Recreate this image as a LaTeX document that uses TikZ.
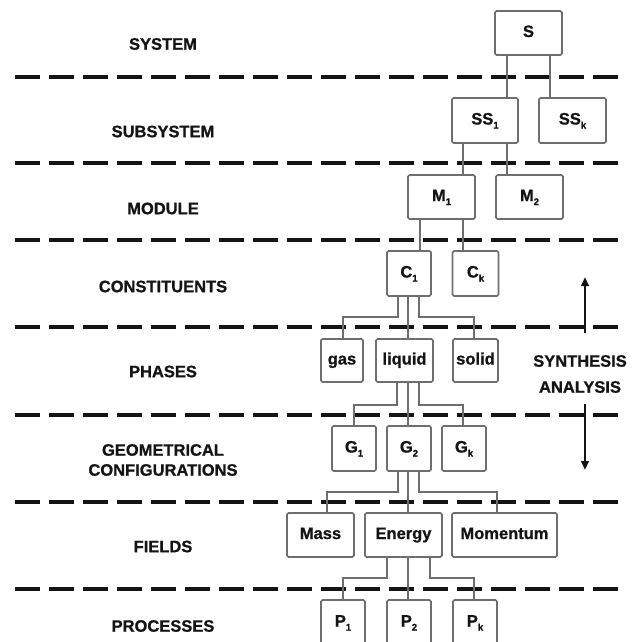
\documentclass[tikz,border=0pt]{standalone}
\usepackage{fontspec}
\setmainfont{Liberation Sans}
\newfontfamily\heavyfont[BoldFeatures={FakeBold=0.9}]{Liberation Sans}
\usetikzlibrary{arrows.meta}
\definecolor{boxgray}{HTML}{6E6E6E}
\definecolor{ink}{HTML}{141414}
\newcommand{\lowidx}[1]{\raisebox{-4pt}{\fontsize{9.5}{9.5}\selectfont #1}}
\begin{document}
\begin{tikzpicture}[x=1pt,y=-1pt,
  level/.style={font=\heavyfont\bfseries\fontsize{16.5}{20}\selectfont, text=ink, align=center, inner sep=0pt},
  unit/.style={draw=boxgray, line width=1.7pt, rounded corners=1.5pt,
    font=\heavyfont\bfseries\fontsize{16.5}{18}\selectfont, text=ink, inner sep=0pt,
    text height=12pt, text depth=4pt},
  sep/.style={draw=ink, line width=3.6pt, dash pattern=on 25pt off 9pt},
  link/.style={draw=boxgray, line width=1.7pt},
  flow/.style={draw=ink, line width=2.2pt, -{Triangle[length=9pt,width=7.5pt]}},
]
\useasboundingbox (0,0) rectangle (639,642);
\clip (0,0) rectangle (639,642);

% level separators
\foreach \yy in {77,163,240,327,415,502,589}
  \draw[sep] (15,\yy) -- (620,\yy);

% level names
\node[level] (lsys) at (163,44)  {SYSTEM};
\node[level] (lsub) at (163,131.5) {SUBSYSTEM};
\node[level] (lmod) at (163,208.5) {MODULE};
\node[level] (lcon) at (163,286.5) {CONSTITUENTS};
\node[level] (lpha) at (163,371.5) {PHASES};
\node[level] (lgeo) at (163,460) {GEOMETRICAL\\CONFIGURATIONS};
\node[level] (lfie) at (163,546.5) {FIELDS};
\node[level] (lpro) at (163,626) {PROCESSES};

% hierarchy boxes
\node[unit, minimum width=67pt, minimum height=44pt] (S)   at (528.5,33)  {S};
\node[unit, minimum width=66pt, minimum height=45pt] (SS1) at (485,120.5) {SS\lowidx{1}};
\node[unit, minimum width=67pt, minimum height=45pt] (SSk) at (572.5,120.5) {SS\lowidx{k}};
\node[unit, minimum width=67pt, minimum height=44pt] (M1)  at (441.5,197) {M\lowidx{1}};
\node[unit, minimum width=67pt, minimum height=44pt] (M2)  at (529.5,197) {M\lowidx{2}};
\node[unit, minimum width=44pt, minimum height=45pt] (C1)  at (409,273.5) {C\lowidx{1}};
\node[unit, minimum width=46pt, minimum height=45pt] (Ck)  at (475.5,273.5) {C\lowidx{k}};
\node[unit, minimum width=42pt, minimum height=43pt] (gas)    at (342,360.5) {gas};
\node[unit, minimum width=57pt, minimum height=43pt] (liquid) at (404.5,360.5) {liquid};
\node[unit, minimum width=45pt, minimum height=43pt] (solid)  at (475.5,360.5) {solid};
\node[unit, minimum width=44pt, minimum height=45pt] (G1) at (354,448.5) {G\lowidx{1}};
\node[unit, minimum width=44pt, minimum height=45pt] (G2) at (409,448.5) {G\lowidx{2}};
\node[unit, minimum width=44pt, minimum height=45pt] (Gk) at (464,448.5) {G\lowidx{k}};
\node[unit, minimum width=67pt, minimum height=44pt] (mass)   at (320.5,535) {Mass};
\node[unit, minimum width=77pt, minimum height=44pt] (energy) at (403.5,535) {Energy};
\node[unit, minimum width=105pt, minimum height=44pt] (momentum) at (504.5,535) {Momentum};
\node[unit, minimum width=44pt, minimum height=45pt] (P1) at (343,622.5) {P\lowidx{1}};
\node[unit, minimum width=44pt, minimum height=45pt] (P2) at (409,622.5) {P\lowidx{2}};
\node[unit, minimum width=44pt, minimum height=45pt] (Pk) at (475,622.5) {P\lowidx{k}};

% connectors
\draw[link] (S.south -| 507,0) -- (SS1.north -| 507,0);
\draw[link] (S.south -| 550,0) -- (SSk.north -| 550,0);
\draw[link] (SS1.south -| 463,0) -- (M1.north -| 463,0);
\draw[link] (SS1.south -| 507,0) -- (M2.north -| 507,0);
\draw[link] (M1.south -| 420,0) -- (C1.north -| 420,0);
\draw[link] (M1.south -| 463,0) -- (Ck.north -| 463,0);

\draw[link] (C1.south -| 398,0) -- (398,317) -- (343,317) -- (gas.north -| 343,0);
\draw[link] (C1.south -| 408,0) -- (liquid.north -| 408,0);
\draw[link] (C1.south -| 419,0) -- (419,317) -- (474,317) -- (solid.north -| 474,0);

\draw[link] (liquid.south -| 397,0) -- (397,405) -- (354,405) -- (G1.north -| 354,0);
\draw[link] (liquid.south -| 408,0) -- (G2.north -| 408,0);
\draw[link] (liquid.south -| 419,0) -- (419,405) -- (463,405) -- (Gk.north -| 463,0);

\draw[link] (G2.south -| 398,0) -- (398,492) -- (327,492) -- (mass.north -| 327,0);
\draw[link] (G2.south -| 408,0) -- (energy.north -| 408,0);
\draw[link] (G2.south -| 419,0) -- (419,492) -- (497,492) -- (momentum.north -| 497,0);

\draw[link] (energy.south -| 387,0) -- (387,578) -- (343,578) -- (P1.north -| 343,0);
\draw[link] (energy.south -| 408,0) -- (P2.north -| 408,0);
\draw[link] (energy.south -| 430,0) -- (430,578) -- (474,578) -- (Pk.north -| 474,0);

% synthesis / analysis direction
\coordinate (upfoot) at (585,333);
\coordinate (uphead) at (585,277);
\coordinate (dnfoot) at (585,404);
\coordinate (dnhead) at (585,470);
\draw[flow] (upfoot) -- (uphead);
\draw[flow] (dnfoot) -- (dnhead);
\node[level] (syn) at (580,361) {SYNTHESIS};
\node[level] (ana) at (580,387) {ANALYSIS};
\end{tikzpicture}
\end{document}
